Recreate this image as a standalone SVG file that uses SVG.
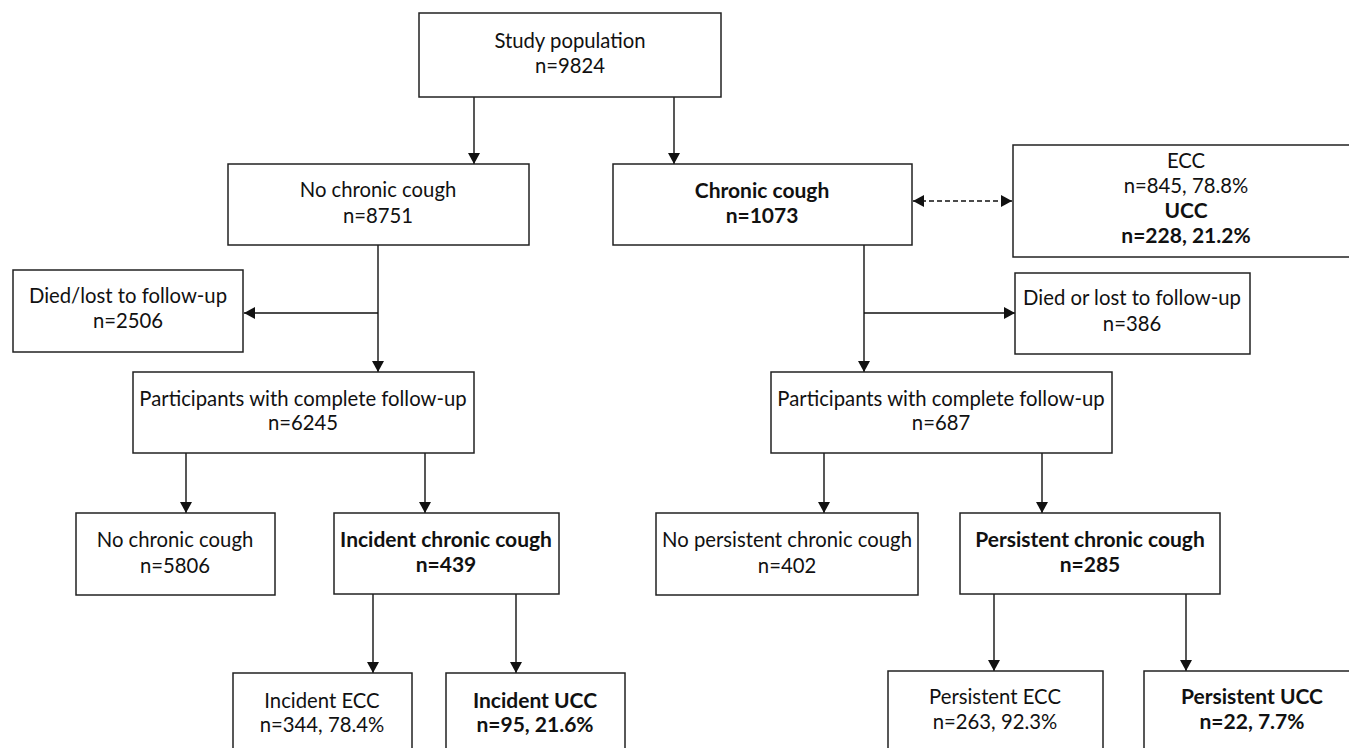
<svg xmlns="http://www.w3.org/2000/svg" width="1349" height="748" viewBox="0 0 1349 748">
<style>
.box{fill:#fff;stroke:#222;stroke-width:1.5}
text{font-family:Lato,"Open Sans",sans-serif;font-size:20.3px;fill:#111;text-anchor:middle}
.b{font-weight:bold;font-size:21px}
.ln{fill:none;stroke:#111;stroke-width:1.4}
.dash{stroke-dasharray:5 3}
</style>
<defs>
<marker id="ah" markerUnits="userSpaceOnUse" viewBox="0 0 11 12" refX="11" refY="6" markerWidth="11" markerHeight="12" orient="auto-start-reverse">
<path d="M0,0 L11,6 L0,12 z" fill="#111"/>
</marker>
</defs>
<rect width="1349" height="748" fill="#fff"/>
<g id="connectors">
<path class="ln" d="M474,97 V164" marker-end="url(#ah)"/>
<path class="ln" d="M674,97 V164" marker-end="url(#ah)"/>
<path class="ln dash" d="M913,201 H1012" marker-start="url(#ah)" marker-end="url(#ah)"/>
<path class="ln" d="M378,245 V372" marker-end="url(#ah)"/>
<path class="ln" d="M378,313 H244" marker-end="url(#ah)"/>
<path class="ln" d="M864,245 V372" marker-end="url(#ah)"/>
<path class="ln" d="M864,313 H1015" marker-end="url(#ah)"/>
<path class="ln" d="M186,453 V513" marker-end="url(#ah)"/>
<path class="ln" d="M425,453 V513" marker-end="url(#ah)"/>
<path class="ln" d="M824,453 V513" marker-end="url(#ah)"/>
<path class="ln" d="M1042,453 V513" marker-end="url(#ah)"/>
<path class="ln" d="M373,594 V673" marker-end="url(#ah)"/>
<path class="ln" d="M516,594 V673" marker-end="url(#ah)"/>
<path class="ln" d="M994,594 V671" marker-end="url(#ah)"/>
<path class="ln" d="M1186,594 V671" marker-end="url(#ah)"/>
</g>
<g id="study"><rect class="box" x="419" y="13" width="302" height="84"/><text x="570" y="48">Study population</text><text x="570" y="73">n=9824</text></g>
<g id="nocc"><rect class="box" x="228" y="164" width="301" height="81"/><text x="378" y="197">No chronic cough</text><text x="378" y="223">n=8751</text></g>
<g id="cc"><rect class="box" x="613" y="164" width="299" height="81"/><text class="b" x="762" y="198">Chronic cough</text><text class="b" x="762" y="223">n=1073</text></g>
<g id="eccucc"><rect class="box" x="1013" y="145" width="340" height="112"/><text x="1186" y="168">ECC</text><text x="1186" y="193">n=845, 78.8%</text><text class="b" x="1186" y="218">UCC</text><text class="b" x="1186" y="243">n=228, 21.2%</text></g>
<g id="diedleft"><rect class="box" x="13" y="270" width="230" height="82"/><text x="128" y="303">Died/lost to follow-up</text><text x="128" y="328">n=2506</text></g>
<g id="diedright"><rect class="box" x="1015" y="273" width="235" height="81"/><text x="1132" y="305">Died or lost to follow-up</text><text x="1132" y="331">n=386</text></g>
<g id="partleft"><rect class="box" x="133" y="372" width="341" height="81"/><text x="303" y="406">Participants with complete follow-up</text><text x="303" y="430">n=6245</text></g>
<g id="partright"><rect class="box" x="771" y="372" width="341" height="81"/><text x="941" y="406">Participants with complete follow-up</text><text x="941" y="430">n=687</text></g>
<g id="nocc2"><rect class="box" x="76" y="513" width="199" height="82"/><text x="175" y="547">No chronic cough</text><text x="175" y="573">n=5806</text></g>
<g id="inccc"><rect class="box" x="334" y="513" width="225" height="81"/><text class="b" x="446" y="547">Incident chronic cough</text><text class="b" x="446" y="572">n=439</text></g>
<g id="nopers"><rect class="box" x="656" y="513" width="262" height="82"/><text x="787" y="547">No persistent chronic cough</text><text x="787" y="573">n=402</text></g>
<g id="perscc"><rect class="box" x="960" y="513" width="260" height="81"/><text class="b" x="1090" y="547">Persistent chronic cough</text><text class="b" x="1090" y="572">n=285</text></g>
<g id="incecc"><rect class="box" x="233" y="673" width="179" height="90"/><text x="322" y="708">Incident ECC</text><text x="322" y="732">n=344, 78.4%</text></g>
<g id="incucc"><rect class="box" x="446" y="673" width="179" height="90"/><text class="b" x="535" y="708">Incident UCC</text><text class="b" x="535" y="732">n=95, 21.6%</text></g>
<g id="persecc"><rect class="box" x="888" y="671" width="215" height="92"/><text x="995" y="704">Persistent ECC</text><text x="995" y="729">n=263, 92.3%</text></g>
<g id="persucc"><rect class="box" x="1144" y="671" width="215" height="92"/><text class="b" x="1252" y="704">Persistent UCC</text><text class="b" x="1252" y="729">n=22, 7.7%</text></g>
</svg>
